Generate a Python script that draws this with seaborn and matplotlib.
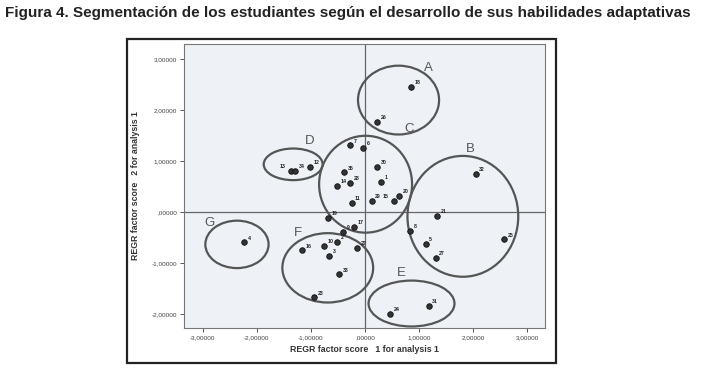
import matplotlib
matplotlib.use("Agg")
import matplotlib.pyplot as plt
from matplotlib.patches import Ellipse, Rectangle
import seaborn as sns
import pandas as pd

# ---- data ----
ids = ["1", "2", "3", "4", "5", "6", "7", "8", "9", "10", "11", "12", "13", "14", "15",
       "16", "17", "18", "19", "20", "21", "22", "23", "24", "25", "26", "27", "28", "29",
       "30", "31", "32", "33", "34", "35"]
score1 = [0.29, -0.52, -0.66, -2.24, 1.12, -0.03, -0.28, 0.83, -0.40, -0.76, -0.25, -1.02,
          -1.37, -0.52, 0.54, -1.16, -0.20, 0.85, -0.69, 0.63, 1.34, -0.15, -0.94, 0.47,
          2.57, 0.23, 1.31, -0.28, 0.12, 0.23, 1.18, 2.05, -0.48, -1.29, -0.39]
score2 = [0.59, -0.58, -0.86, -0.59, -0.62, 1.27, 1.31, -0.37, -0.39, -0.66, 0.19, 0.89,
          0.81, 0.52, 0.23, -0.75, -0.28, 2.46, -0.11, 0.32, -0.07, -0.70, -1.67, -1.99,
          -0.53, 1.78, -0.90, 0.58, 0.23, 0.89, -1.84, 0.75, -1.22, 0.81, 0.78]

clusters = ["A", "B", "C", "D", "E", "F", "G"]
cl_cx = [0.62, 1.81, 0.01, -1.33, 0.86, -0.69, -2.37]
cl_cy = [2.20, -0.08, 0.55, 0.94, -1.79, -1.09, -0.63]
cl_w = [1.50, 2.05, 1.72, 1.09, 1.59, 1.68, 1.17]
cl_h = [1.35, 2.37, 1.90, 0.62, 0.90, 1.36, 0.93]
cl_lx = [1.18, 1.94, 0.81, -1.03, 0.68, -1.25, -2.88]
cl_ly = [2.82, 1.24, 1.64, 1.40, -1.20, -0.41, -0.22]

ticks = [-3, -2, -1, 0, 1, 2, 3]
yticks = [-2, -1, 0, 1, 2, 3]
xlabel = "REGR factor score   1 for analysis 1"
ylabel = "REGR factor score   2 for analysis 1"
title = "Figura 4. Segmentación de los estudiantes según el desarrollo de sus habilidades adaptativas"


def fmt(v):
    if v == 0:
        return ",00000"
    return f"{v:.5f}".replace(".", ",")


sns.set_style("white")
plt.rcParams["font.family"] = ["Liberation Sans", "DejaVu Sans"]

df = pd.DataFrame({"id": ids, "s1": score1, "s2": score2})

fig = plt.figure(figsize=(7.02, 3.75), dpi=100)
fig.patch.set_facecolor("white")

# outer black frame
fig.patches.append(Rectangle((127 / 702, 12 / 375), 429 / 702, 324 / 375,
                             transform=fig.transFigure, fill=False,
                             edgecolor="#222222", linewidth=1.6))

fig.text(5 / 702, 1 - 13 / 375, title, fontsize=11, fontweight="bold",
         ha="left", va="center", color="#222222")

ax = fig.add_axes([184 / 702, 47 / 375, 361 / 702, 284 / 375])
ax.set_facecolor("#eef2f7")

ax.axvline(0, color="#666666", lw=0.9, zorder=1)
ax.axhline(0, color="#666666", lw=0.9, zorder=1)

for name, cx, cy, w, h, lx, ly in zip(clusters, cl_cx, cl_cy, cl_w, cl_h, cl_lx, cl_ly):
    ax.add_patch(Ellipse((cx, cy), w, h, fill=False, edgecolor="#555555",
                         linewidth=1.6, zorder=2))
    ax.text(lx, ly, name, fontsize=9.5, color="#555555", ha="center", va="center")

sns.scatterplot(data=df, x="s1", y="s2", ax=ax, color="#333333", edgecolor="#111111",
                s=16, linewidth=0.6, zorder=3, legend=False)

left_labels = {"15", "13"}
for pid, x, y in zip(ids, score1, score2):
    off = (-8, 2) if pid in left_labels else (2.5, 2)
    ax.annotate(pid, (x, y), xytext=off, textcoords="offset points",
                fontsize=3.8, fontweight="bold", color="#222222", zorder=4)

ax.set_xlim(-3.35, 3.33)
ax.set_ylim(-2.27, 3.30)
ax.set_xticks(ticks)
ax.set_xticklabels([fmt(v) for v in ticks])
ax.set_yticks(yticks)
ax.set_yticklabels([fmt(v) for v in yticks])
ax.tick_params(axis="both", direction="out", length=3, width=0.7, color="#555555",
               labelsize=4.6, labelcolor="#444444", pad=2)
ax.tick_params(axis="both", which="both", bottom=True, left=True)
for sp in ax.spines.values():
    sp.set_color("#777777")
    sp.set_linewidth(0.8)

ax.set_xlabel(xlabel, fontsize=6.3, fontweight="bold", color="#333333", labelpad=4)
ax.set_ylabel(ylabel, fontsize=6.3, fontweight="bold", color="#333333", labelpad=8)

fig.savefig("out.png", dpi=100)
